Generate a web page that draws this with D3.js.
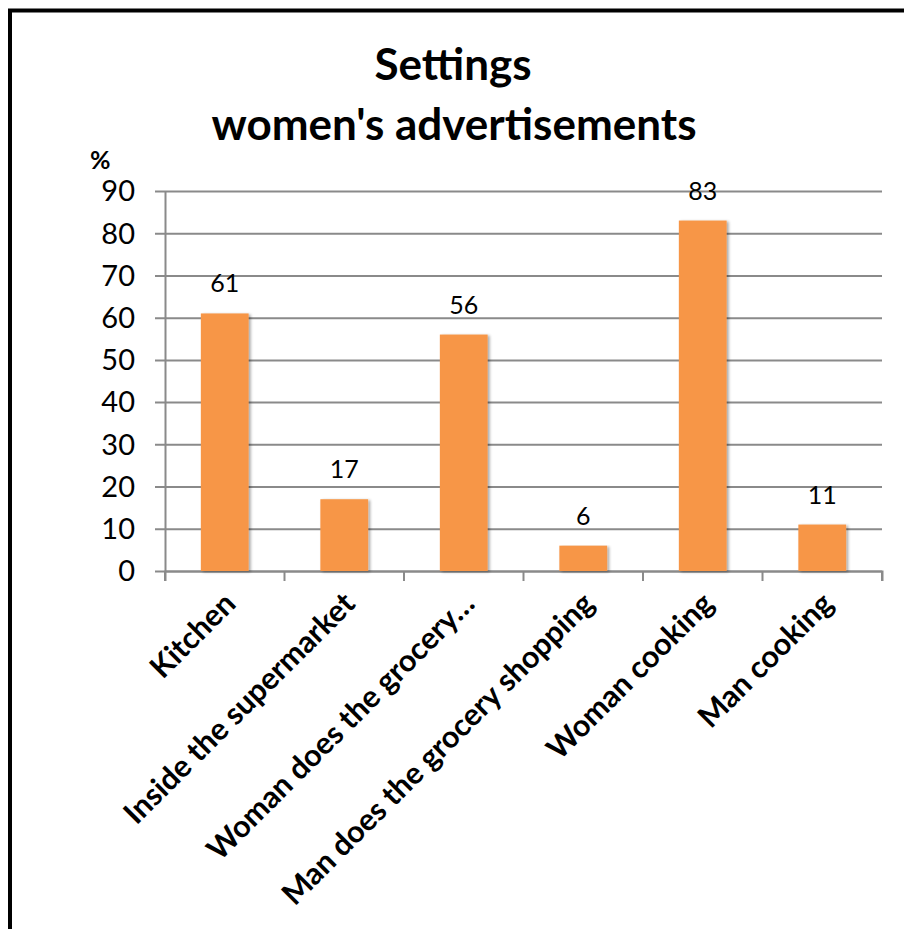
<!DOCTYPE html>
<html>
<head>
<meta charset="utf-8">
<script src="https://cdn.jsdelivr.net/npm/d3@7/dist/d3.min.js"></script>
<style>
  html, body { margin: 0; padding: 0; background: #fff; }
  svg { display: block; }
  text { font-family: Lato, "Open Sans", sans-serif; fill: #000; }
</style>
</head>
<body>
<svg id="chart" width="904" height="929"></svg>
<script>
// Ad settings in women's advertisements, share of ads (%)
const categories = [
  "Kitchen",
  "Inside the supermarket",
  "Woman does the grocery…",
  "Man does the grocery shopping",
  "Woman cooking",
  "Man cooking"
];
const values = [61, 17, 56, 6, 83, 11];
const yTicks = [0, 10, 20, 30, 40, 50, 60, 70, 80, 90];
const titleLines = ["Settings", "women's advertisements"];
const yUnit = "%";

const svg = d3.select("#chart");
const W = 904, H = 929;
const plot = { left: 165, right: 882, top: 191, bottom: 571 };

svg.append("rect").attr("width", W).attr("height", H).attr("fill", "#fff");

// outer frame (continues past the right and bottom edges)
svg.append("rect")
  .attr("x", 10).attr("y", 10.5)
  .attr("width", W + 20).attr("height", H + 20)
  .attr("fill", "none").attr("stroke", "#000").attr("stroke-width", 4);

// soft shadow for the bars
const defs = svg.append("defs");
const f = defs.append("filter").attr("id", "barShadow")
  .attr("x", "-20%").attr("y", "-5%").attr("width", "140%").attr("height", "115%");
f.append("feGaussianBlur").attr("in", "SourceAlpha").attr("stdDeviation", 1.6).attr("result", "b");
f.append("feOffset").attr("in", "b").attr("dx", 2).attr("dy", 1).attr("result", "o");
f.append("feComponentTransfer").attr("in", "o").attr("result", "s")
  .append("feFuncA").attr("type", "linear").attr("slope", 0.35);
const m = f.append("feMerge");
m.append("feMergeNode").attr("in", "s");
m.append("feMergeNode").attr("in", "SourceGraphic");

const x = d3.scaleBand().domain(categories)
  .range([plot.left, plot.right]).paddingInner(0.6).paddingOuter(0.3);
const y = d3.scaleLinear().domain([0, 90]).range([plot.bottom, plot.top]);

const grey = "#8a8a8a";

// horizontal gridlines with outward ticks
const yAxis = svg.append("g")
  .attr("transform", `translate(${plot.left},0)`)
  .call(d3.axisLeft(y).tickValues(yTicks)
    .tickSizeInner(-(plot.right - plot.left)).tickSizeOuter(0).tickPadding(30));
yAxis.select(".domain").attr("stroke", grey).attr("stroke-width", 2);
yAxis.selectAll(".tick line").attr("stroke", grey).attr("stroke-width", 2)
  .attr("x1", -10);
yAxis.selectAll(".tick text")
  .style("font-size", "29px").attr("dy", "0.34em");

// category axis
const xAxis = svg.append("g")
  .attr("transform", `translate(0,${plot.bottom})`)
  .call(d3.axisBottom(x).tickSizeInner(10).tickSizeOuter(10));
xAxis.select(".domain").attr("stroke", grey).attr("stroke-width", 2);
xAxis.selectAll(".tick line").attr("stroke", grey).attr("stroke-width", 2)
  .attr("transform", `translate(${-x.step() / 2},0)`);
// extra boundary tick at the right end
xAxis.append("line")
  .attr("x1", plot.right).attr("x2", plot.right).attr("y1", 0).attr("y2", 10)
  .attr("stroke", grey).attr("stroke-width", 2);
xAxis.selectAll(".tick text")
  .style("font-size", "30.5px").style("font-weight", "bold")
  .attr("text-anchor", "end")
  .attr("x", 0).attr("y", 0).attr("dy", "0.35em")
  .attr("transform", "translate(5,27) rotate(-45)");

// bars
svg.append("g").selectAll("rect")
  .data(values)
  .join("rect")
  .attr("x", (d, i) => x(categories[i]))
  .attr("width", x.bandwidth())
  .attr("y", d => y(d))
  .attr("height", d => y(0) - y(d))
  .attr("fill", "#F79646")
  .attr("filter", "url(#barShadow)");

// value labels
svg.append("g").selectAll("text")
  .data(values)
  .join("text")
  .attr("x", (d, i) => x(categories[i]) + x.bandwidth() / 2)
  .attr("y", d => y(d) - 21)
  .attr("text-anchor", "middle")
  .style("font-size", "25px")
  .text(d => d);

// title
svg.append("text")
  .attr("x", 453).attr("y", 80)
  .attr("text-anchor", "middle")
  .style("font-size", "44px").style("font-weight", "bold")
  .text(titleLines[0]);
svg.append("text")
  .attr("x", 454).attr("y", 140)
  .attr("text-anchor", "middle")
  .style("font-size", "44px").style("font-weight", "bold")
  .text(titleLines[1]);

// unit label
svg.append("text")
  .attr("x", 90).attr("y", 169)
  .style("font-size", "25px").style("font-weight", "bold")
  .text(yUnit);
</script>
</body>
</html>
